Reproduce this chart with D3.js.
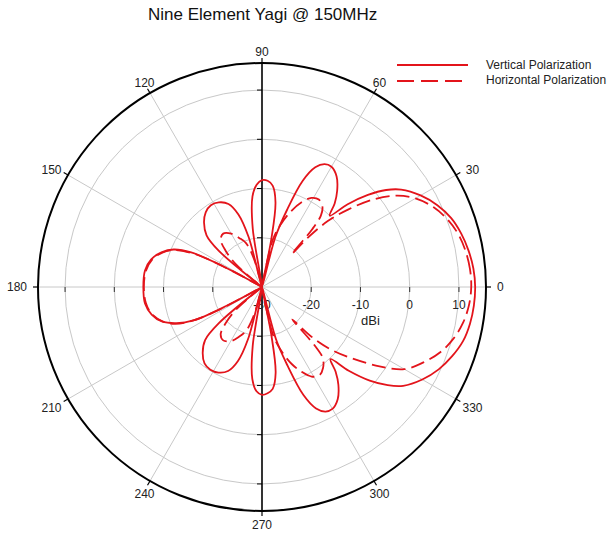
<!DOCTYPE html>
<html>
<head>
<meta charset="utf-8">
<script src="https://cdn.jsdelivr.net/npm/d3@7/dist/d3.min.js"></script>
<style>
  html, body { margin: 0; padding: 0; background: #fff; }
  svg { display: block; font-family: "Liberation Sans", Arial, sans-serif; }
</style>
</head>
<body>
<svg id="chart" width="608" height="535"></svg>
<script>
// Radiation pattern of a nine element Yagi at 150 MHz.
// Angles in degrees (counter-clockwise from 0 = boresight), gain in dBi.
const vertAngles = [0, 5, 10, 15, 20, 25, 30, 35, 38, 41, 44, 46.5, 49, 52, 56, 60, 63, 66, 69, 72, 75, 77.5,
  79, 81, 84, 87, 90, 93, 96, 99, 102, 105, 108, 112, 117, 122, 127, 132, 137, 140, 142, 150,
  152, 154, 157, 161, 166, 172, 180, 188, 194, 199, 203, 206, 208, 210, 218, 220, 223, 228, 233,
  238, 243, 248, 252, 255, 258, 261, 264, 267, 270, 273, 276, 279, 281, 282.5, 285, 288, 291, 294,
  297, 300, 304, 308, 311, 313.5, 316, 319, 322, 325, 330, 335, 340, 345, 350, 355];
const vertGain = [13.3, 13.1, 12.6, 11.9, 10.9, 9.3, 7.2, 4.5, 2.0, -1.5, -5.8, -10.0, -7.5, -5.2, -2.9, -1.8, -2.0, -3.4, -6.9, -13.5, -19.5, -30,
  -20, -12.5, -9.3, -8.4, -8.3, -9.2, -11.5, -18, -30, -19.5, -14.5, -11.8, -10.7, -10.4, -11.0, -12.4, -14.6, -18.5, -30, -30,
  -21, -14, -10.5, -8.4, -6.8, -6.0, -5.9, -6.0, -6.9, -8.5, -11.2, -14.5, -22, -30, -30, -18.5, -14.2, -12.0, -10.6,
  -10.2, -10.5, -11.6, -14.2, -19.0, -30, -18, -11.2, -8.8, -8.1, -8.4, -9.2, -12.3, -20, -30, -19, -13.2, -6.5, -3.0,
  -1.6, -1.4, -2.5, -4.8, -7.2, -9.8, -5.5, -1.0, 2.4, 5.0, 7.6, 9.6, 11.1, 12.3, 12.9, 13.2];

const horizAngles = [0, 5, 10, 15, 20, 25, 30, 34, 38, 42, 45, 47, 48, 49, 50.5, 53, 57, 61, 65, 69, 73, 77, 81,
  101, 106, 110, 115, 120, 126, 131, 135, 139, 142, 150, 152, 154, 157, 161, 166, 172, 180,
  188, 194, 199, 203, 206, 208, 210, 218, 221, 225, 229, 234, 240, 245, 250, 254, 259,
  279, 283, 287, 291, 295, 299, 303, 307, 310.5, 312, 313, 315, 318, 322, 326, 330, 335, 340, 345, 350, 355];
const horizGain = [12.5, 12.4, 12.0, 11.3, 10.1, 8.4, 6.0, 3.2, -1.0, -6.5, -11.0, -16.0, -21, -14.5, -11.2, -9.6, -8.8, -9.3, -11.0, -13.5, -16.5, -20, -30,
  -30, -24, -20.5, -19, -17.5, -16.6, -17.2, -19.5, -23, -30, -30, -21, -14.5, -10.8, -8.6, -7.0, -6.2, -6.0,
  -6.2, -7.0, -8.6, -10.8, -14.5, -21, -30, -30, -23, -19.5, -17.2, -16.6, -17.3, -18.8, -20.5, -24, -30,
  -30, -20, -16.3, -13.3, -11.0, -9.2, -8.6, -9.4, -11.0, -14, -21, -15.5, -10.8, -6.2, -1.2, 3.4, 6.2, 8.6, 10.3, 11.5, 12.2];

const angleTicks = [0, 30, 60, 90, 120, 150, 180, 210, 240, 270, 300, 330];
const gainTicks = [-30, -20, -10, 0, 10];
const seriesNames = ["Vertical Polarization", "Horizontal Polarization"];

const RED = "#e3141b";
const svg = d3.select("#chart");
const cx = 262, cy = 287;
const r = d3.scaleLinear().domain([-30, 15.5]).range([0, 224]);
const R = r.range()[1];
const toRad = a => (90 - a) * Math.PI / 180; // d3 radial angle from compass-style math angle
const cosd = a => Math.cos(a * Math.PI / 180);
const sind = a => Math.sin(a * Math.PI / 180);

const g = svg.append("g").attr("transform", `translate(${cx},${cy})`);

// grid rings
g.selectAll("circle.ring").data(gainTicks.filter(d => d > -30)).join("circle")
  .attr("class", "ring").attr("r", d => r(d))
  .attr("fill", "none").attr("stroke", "#c8c8c8").attr("stroke-width", 1);

// spokes every 30 degrees (vertical axis drawn separately in black)
g.selectAll("line.spoke").data(angleTicks.filter(a => a !== 90 && a !== 270)).join("line")
  .attr("class", "spoke")
  .attr("x1", 0).attr("y1", 0)
  .attr("x2", a => R * cosd(a))
  .attr("y2", a => -R * sind(a))
  .attr("stroke", "#c8c8c8").attr("stroke-width", 1);

// vertical black axis
g.append("line").attr("x1", 0).attr("x2", 0).attr("y1", -R).attr("y2", R)
  .attr("stroke", "#000").attr("stroke-width", 1.6);

// ticks on vertical axis
const ringR = gainTicks.filter(d => d > -30);
[-1, 1].forEach(s => {
  g.selectAll(null).data(ringR).join("line")
    .attr("x1", -5).attr("x2", 0)
    .attr("y1", d => s * r(d)).attr("y2", d => s * r(d))
    .attr("stroke", "#000").attr("stroke-width", 1);
});
// ticks along the horizontal axis (both sides)
[-1, 1].forEach(s => {
  g.selectAll(null).data(ringR).join("line")
    .attr("x1", d => s * r(d)).attr("x2", d => s * r(d))
    .attr("y1", 0).attr("y2", 5)
    .attr("stroke", "#333").attr("stroke-width", 1);
});

// outer circle
g.append("circle").attr("r", R).attr("fill", "none").attr("stroke", "#000").attr("stroke-width", 2);

// angular ticks and labels
g.selectAll("line.atick").data(angleTicks).join("line")
  .attr("class", "atick")
  .attr("x1", a => R * cosd(a))
  .attr("y1", a => -R * sind(a))
  .attr("x2", a => (R + 5) * cosd(a))
  .attr("y2", a => -(R + 5) * sind(a))
  .attr("stroke", "#000").attr("stroke-width", 1.2);

g.selectAll("text.alabel").data(angleTicks).join("text")
  .attr("class", "alabel")
  .attr("x", a => (R + 11) * cosd(a) + (Math.abs(cosd(a)) > 0.8 && Math.abs(sind(a)) > 0.1 ? 7 * Math.sign(cosd(a)) : 0))
  .attr("y", a => -(R + 11) * sind(a) + (sind(a) < -0.5 ? 3 : 0))
  .attr("text-anchor", a => a === 0 ? "start" : (a === 180 ? "end" : "middle"))
  .attr("dominant-baseline", "central")
  .attr("font-size", 12).attr("fill", "#222")
  .text(a => a);

// radial gain labels
g.selectAll("text.rlabel").data(gainTicks).join("text")
  .attr("class", "rlabel")
  .attr("x", d => r(d)).attr("y", 22)
  .attr("text-anchor", "middle").attr("font-size", 12).attr("fill", "#222")
  .text(d => d);
g.append("text").attr("x", r(-10) + 10).attr("y", 38)
  .attr("text-anchor", "middle").attr("font-size", 13).attr("fill", "#222").text("dBi");

// pattern curves
const line = d3.lineRadial()
  .angle(d => toRad(d[0]))
  .radius(d => r(Math.max(-30, d[1])))
  .curve(d3.curveCatmullRomClosed.alpha(0.5));

const vertPts = vertAngles.map((a, i) => [a, vertGain[i]]);
const horizPts = horizAngles.map((a, i) => [a, horizGain[i]]);

g.append("path").datum(horizPts).attr("d", line)
  .attr("fill", "none").attr("stroke", RED).attr("stroke-width", 1.8)
  .attr("stroke-dasharray", "14,6");
g.append("path").datum(vertPts).attr("d", line)
  .attr("fill", "none").attr("stroke", RED).attr("stroke-width", 1.8);

// title
svg.append("text").attr("x", 148).attr("y", 20)
  .attr("font-size", 17).attr("fill", "#111")
  .text("Nine Element Yagi @ 150MHz");

// legend
const lg = svg.append("g");
lg.append("line").attr("x1", 397).attr("x2", 468).attr("y1", 65).attr("y2", 65)
  .attr("stroke", RED).attr("stroke-width", 2);
lg.append("line").attr("x1", 397).attr("x2", 468).attr("y1", 81).attr("y2", 81)
  .attr("stroke", RED).attr("stroke-width", 2).attr("stroke-dasharray", "17,7");
lg.selectAll("text").data(seriesNames).join("text")
  .attr("x", 486).attr("y", (d, i) => 69 + i * 15)
  .attr("font-size", 12).attr("fill", "#222")
  .text(d => d);
</script>
</body>
</html>
